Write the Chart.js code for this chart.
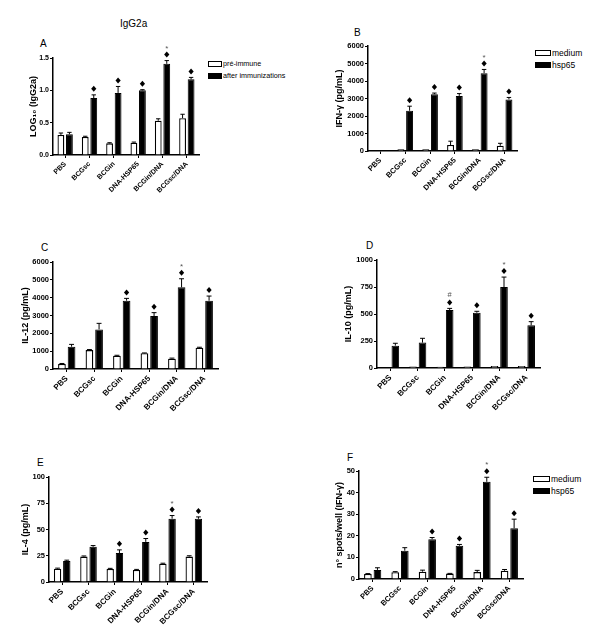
<!DOCTYPE html>
<html><head><meta charset="utf-8">
<script src="https://cdn.jsdelivr.net/npm/chart.js@4.4.0/dist/chart.umd.min.js"></script>
<style>
body{margin:0;background:#fff;width:600px;height:640px;position:relative;overflow:hidden;font-family:"Liberation Sans",Arial,sans-serif;}
canvas{position:absolute;}
.t{position:absolute;color:#000;white-space:nowrap;line-height:1;}
.lg{position:absolute;white-space:nowrap;color:#000;line-height:1;}
.row{position:absolute;left:0;display:flex;align-items:center;}
.bx{display:inline-block;box-sizing:border-box;border:1px solid #000;margin-right:1px;}
</style></head><body>
<div class="t" style="left:120px;top:19px;font-size:10px;">IgG2a</div>
<div class="t" style="left:40px;top:39px;font-size:10px;">A</div>
<div class="t" style="left:354px;top:28px;font-size:10px;">B</div>
<div class="t" style="left:41px;top:243px;font-size:10px;">C</div>
<div class="t" style="left:366px;top:241px;font-size:10px;">D</div>
<div class="t" style="left:37px;top:458px;font-size:10px;">E</div>
<div class="t" style="left:347px;top:453px;font-size:10px;">F</div>

<div class="lg" style="left:208px;top:60px;font-size:7.2px;">
  <div class="row" style="top:0"><span class="bx" style="width:14px;height:6px;background:#fff"></span>pré-immune</div>
  <div class="row" style="top:12px"><span class="bx" style="width:14px;height:6px;background:#000"></span>after immunizations</div>
</div>
<div class="lg" style="left:535px;top:49px;font-size:8.5px;">
  <div class="row" style="top:0"><span class="bx" style="width:16px;height:6px;background:#fff"></span>medium</div>
  <div class="row" style="top:12px"><span class="bx" style="width:16px;height:6px;background:#000"></span>hsp65</div>
</div>
<div class="lg" style="left:533px;top:475px;font-size:8.5px;">
  <div class="row" style="top:0"><span class="bx" style="width:17px;height:6px;background:#fff"></span>medium</div>
  <div class="row" style="top:12px"><span class="bx" style="width:17px;height:6px;background:#000"></span>hsp65</div>
</div>

<canvas id="cA"></canvas><canvas id="cB"></canvas><canvas id="cC"></canvas>
<canvas id="cD"></canvas><canvas id="cE"></canvas><canvas id="cF"></canvas>
<script>
const categories = ['PBS','BCGsc','BCGin','DNA-HSP65','BCGin/DNA','BCGsc/DNA'];

// Panel A: IgG2a
const igg2aPre = [0.31,0.28,0.18,0.19,0.53,0.57];
const igg2aPreErr = [0.03,0.01,0.01,0.01,0.03,0.06];
const igg2aAfter = [0.32,0.88,0.96,1.00,1.41,1.17];
const igg2aAfterErr = [0.03,0.05,0.10,0.01,0.05,0.03];
const igg2aMarks = ['','d','d','d','d*','d'];

// Panel B: IFN-gamma
const ifnMedium = [40,100,100,340,100,300];
const ifnMediumErr = [0,0,0,220,0,140];
const ifnHsp = [50,2300,3250,3150,4450,2950];
const ifnHspErr = [0,260,60,130,210,110];
const ifnMarks = ['','d','d','d','d*','d'];

// Panel C: IL-12
const il12Medium = [280,1060,740,880,580,1190];
const il12MediumErr = [30,30,30,20,30,30];
const il12Hsp = [1250,2220,3830,2970,4580,3830];
const il12HspErr = [130,340,130,190,480,260];
const il12Marks = ['','','d','d','d*','d'];

// Panel D: IL-10
const il10Medium = [5,15,12,15,18,18];
const il10MediumErr = [0,0,0,0,0,0];
const il10Hsp = [207,235,537,512,750,395];
const il10HspErr = [22,40,15,13,92,34];
const il10Marks = ['','','d#','d','d*','d'];

// Panel E: IL-4
const il4Medium = [12.7,24.2,12.5,11.5,17.4,24.2];
const il4MediumErr = [0.5,0.6,0.5,0.5,0.5,0.8];
const il4Hsp = [20,33.5,27.6,38.2,60.3,60.2];
const il4HspErr = [0.8,1.2,3,3.2,3,1.8];
const il4Marks = ['','','d','d','d*','d'];

// Panel F: ELISPOT
const spotMedium = [2.3,3.1,3.4,2.5,3.2,3.8];
const spotMediumErr = [0.2,0.3,0.7,0.1,0.8,0.6];
const spotHsp = [4.2,13.1,18.4,15.4,45.0,23.5];
const spotHspErr = [1.0,1.4,0.8,0.6,2.1,4.2];
const spotMarks = ['','','d','d','d*','d'];

const FONT = 'Liberation Sans';

const errPlugin = {
  id: 'errMarks',
  afterDatasetsDraw(chart) {
    const ctx = chart.ctx, ys = chart.scales.y;
    chart.data.datasets.forEach((ds, i) => {
      const meta = chart.getDatasetMeta(i);
      meta.data.forEach((bar, j) => {
        const v = ds.data[j], e = ds.err ? ds.err[j] : 0;
        const yTop = ys.getPixelForValue(v + e);
        const w = bar.width;
        ctx.save();
        if (e > 0) {
          ctx.strokeStyle = '#000'; ctx.lineWidth = 1;
          ctx.beginPath();
          ctx.moveTo(bar.x, bar.y); ctx.lineTo(bar.x, yTop);
          ctx.moveTo(bar.x - w * 0.32, yTop); ctx.lineTo(bar.x + w * 0.32, yTop);
          ctx.stroke();
        }
        const m = ds.marks ? ds.marks[j] : '';
        if (m.indexOf('d') >= 0) {
          const cy = yTop - 6;
          ctx.fillStyle = '#000';
          ctx.beginPath();
          ctx.moveTo(bar.x, cy - 3); ctx.lineTo(bar.x + 2.6, cy);
          ctx.lineTo(bar.x, cy + 3); ctx.lineTo(bar.x - 2.6, cy);
          ctx.closePath(); ctx.fill();
        }
        ctx.fillStyle = '#555';
        ctx.textAlign = 'center'; ctx.textBaseline = 'middle';
        if (m.indexOf('*') >= 0) { ctx.font = '8px ' + FONT; ctx.fillText('*', bar.x, yTop - 12); }
        if (m.indexOf('#') >= 0) { ctx.font = '7.5px ' + FONT; ctx.fillText('#', bar.x, yTop - 13); }
        ctx.restore();
      });
    });
  }
};

function makePanel(id, box, yMax, yStep, yTitle, fmt, s1, e1, s2, e2, marks, tickSize, labSize) {
  const cv = document.getElementById(id);
  const padTop = 12, padRight = 8, xH = 50;
  const yW = box.axisX - box.left;
  const W = yW + (box.right - box.axisX) + padRight;
  const H = padTop + (box.bottom - box.top) + xH;
  cv.width = W; cv.height = H;
  cv.style.left = box.left + 'px'; cv.style.top = (box.top - padTop) + 'px';
  cv.style.width = W + 'px'; cv.style.height = H + 'px';
  new Chart(cv, {
    type: 'bar',
    data: {
      labels: categories,
      datasets: [
        { data: s1, err: e1, marks: null, backgroundColor: '#fff', borderColor: '#000', borderWidth: 1.3,
          categoryPercentage: 0.7, barPercentage: 0.8 },
        { data: s2, err: e2, marks: marks, backgroundColor: '#000', borderColor: '#000', borderWidth: 1,
          categoryPercentage: 0.7, barPercentage: 0.8 }
      ]
    },
    options: {
      responsive: false, animation: false, devicePixelRatio: 1,
      layout: { padding: { top: padTop, right: padRight, left: 0, bottom: 0 } },
      plugins: { legend: { display: false }, tooltip: { enabled: false } },
      scales: {
        x: {
          offset: true,
          grid: { offset: false, drawOnChartArea: false, drawTicks: true, tickLength: 3, tickColor: '#000', tickWidth: 1 },
          border: { display: true, color: '#000', width: 1.5 },
          ticks: { autoSkip: false, maxRotation: 45, minRotation: 45, padding: 2, color: '#000',
                   font: { family: FONT, size: labSize, weight: 'bold' } },
          afterFit(s) { s.height = xH; }
        },
        y: {
          min: 0, max: yMax,
          grid: { drawOnChartArea: false, drawTicks: true, tickLength: 3, tickColor: '#000', tickWidth: 1 },
          border: { display: true, color: '#000', width: 1.5 },
          ticks: { stepSize: yStep, padding: 1, color: '#000', font: { family: FONT, size: tickSize, weight: 'bold' },
                   callback: fmt },
          title: { display: true, text: yTitle, color: '#000', padding: 0, font: { family: FONT, size: 9, weight: 'bold' } },
          afterFit(s) { s.width = yW; }
        }
      }
    },
    plugins: [errPlugin]
  });
}

const intFmt = v => String(v);
makePanel('cA', {left: 28, axisX: 53, top: 58, bottom: 155, right: 199}, 1.5, 0.5, 'LOG\u2081\u2080 (IgG2a)',
  v => v.toFixed(1), igg2aPre, igg2aPreErr, igg2aAfter, igg2aAfterErr, igg2aMarks, 7, 7);
makePanel('cB', {left: 334, axisX: 368, top: 46, bottom: 151, right: 517}, 6000, 1000, 'IFN-\u03b3 (pg/mL)',
  intFmt, ifnMedium, ifnMediumErr, ifnHsp, ifnHspErr, ifnMarks, 7.5, 7.5);
makePanel('cC', {left: 20, axisX: 53, top: 262, bottom: 369, right: 218}, 6000, 1000, 'IL-12 (pg/mL)',
  intFmt, il12Medium, il12MediumErr, il12Hsp, il12HspErr, il12Marks, 7.5, 8);
makePanel('cD', {left: 343, axisX: 377, top: 260, bottom: 368, right: 540}, 1000, 250, 'IL-10 (pg/mL)',
  intFmt, il10Medium, il10MediumErr, il10Hsp, il10HspErr, il10Marks, 7.5, 8);
makePanel('cE', {left: 20, axisX: 49, top: 477, bottom: 582, right: 207}, 100, 25, 'IL-4 (pg/mL)',
  intFmt, il4Medium, il4MediumErr, il4Hsp, il4HspErr, il4Marks, 7.5, 8);
makePanel('cF', {left: 334, axisX: 359, top: 471, bottom: 579, right: 523}, 50, 10, 'n\u00b0 spots/well (IFN-\u03b3)',
  intFmt, spotMedium, spotMediumErr, spotHsp, spotHspErr, spotMarks, 7.5, 7.5);
</script>
</body></html>
